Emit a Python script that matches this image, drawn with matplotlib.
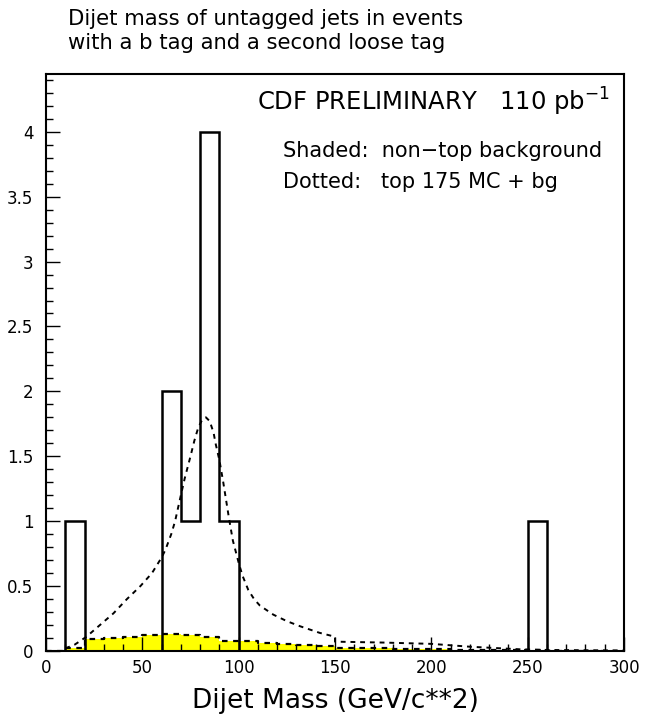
import numpy as np
import matplotlib
matplotlib.use("Agg")
import matplotlib.pyplot as plt
from matplotlib.ticker import MultipleLocator

# Data histogram (bin edges every 10 GeV)
bin_edges = np.arange(0, 310, 10)
data_counts = [0, 1, 0, 0, 0, 0, 2, 1, 4, 1,
               0, 0, 0, 0, 0, 0, 0, 0, 0, 0,
               0, 0, 0, 0, 0, 1, 0, 0, 0, 0]

# Non-top background (shaded)
bg_counts = [0, 0.025, 0.09, 0.10, 0.11, 0.125, 0.13, 0.125, 0.11, 0.08,
             0.075, 0.065, 0.055, 0.045, 0.035, 0.025, 0.022, 0.02, 0.018, 0.015,
             0.012, 0.01, 0.008, 0.006, 0.005, 0.004, 0.003, 0.002, 0.001, 0.001]

# Top 175 MC + bg (dotted)
mc_x = [10, 15, 21, 28, 35, 42, 49, 55, 60, 62, 65, 67, 70, 72, 75, 77, 79, 81, 83,
        85, 87, 88, 90, 92, 95, 97, 100, 102, 105, 108, 111, 118, 125, 132, 142,
        150, 150, 175, 200, 220, 246, 260, 300]
mc_y = [0.02, 0.05, 0.11, 0.2, 0.29, 0.4, 0.5, 0.6, 0.72, 0.78, 0.9, 1.0, 1.2, 1.33,
        1.5, 1.62, 1.72, 1.78, 1.8, 1.77, 1.68, 1.6, 1.47, 1.3, 1.02, 0.85, 0.68,
        0.58, 0.47, 0.4, 0.35, 0.28, 0.23, 0.19, 0.14, 0.11, 0.072, 0.065, 0.055,
        0.033, 0.013, 0.008, 0.004]

fig = plt.figure(figsize=(6.47, 7.15), dpi=100)
ax = fig.add_axes([46/647, 1-651/715, (624-46)/647, (651-74)/715])

# background fill + dashed outline
bg_step = np.append(bg_counts, bg_counts[-1])
ax.fill_between(bin_edges, bg_step, step='post', color='#ffff00', lw=0, zorder=1)
ax.step(bin_edges, bg_step, where='post', color='black', lw=1.6,
        linestyle=(0, (2.5, 2.5)), zorder=2)

# dotted MC curve
ax.plot(mc_x, mc_y, color='black', lw=1.4, linestyle=(0, (2.5, 2.5)), zorder=3)

# data histogram outline
ax.stairs(data_counts, bin_edges, color='black', lw=1.8, zorder=4)

ax.set_xlim(0, 300)
ax.set_ylim(0, 4.445)
ax.xaxis.set_major_locator(MultipleLocator(50))
ax.xaxis.set_minor_locator(MultipleLocator(10))
ax.yaxis.set_major_locator(MultipleLocator(0.5))
ax.yaxis.set_minor_locator(MultipleLocator(0.1))
ax.yaxis.set_major_formatter(matplotlib.ticker.FuncFormatter(lambda v, p: f"{v:g}"))
ax.tick_params(which='both', direction='in', top=False, right=False, labelsize=12)
ax.tick_params(which='major', length=10, width=1.0)
ax.tick_params(axis='y', which='major', pad=9)
ax.tick_params(axis='x', which='major', pad=6)
ax.tick_params(which='minor', length=5, width=1.0)
for s in ax.spines.values():
    s.set_linewidth(1.5)

ax.set_xlabel("Dijet Mass (GeV/c**2)", fontsize=19, labelpad=8)

fig.text(68/647, 1-9/715, "Dijet mass of untagged jets in events\nwith a b tag and a second loose tag",
         ha='left', va='top', fontsize=15.2, linespacing=1.25)

ax.text((257-46)/578, 0.951, r"CDF PRELIMINARY   110 pb$^{-1}$", fontsize=17.5, ha='left', va='center',
        transform=ax.transAxes)
ax.text((283-46)/578, 0.867, "Shaded:  non\u2212top background", fontsize=15, transform=ax.transAxes,
        ha='left', va='center')
ax.text((283-46)/578, 0.812, "Dotted:   top 175 MC + bg", fontsize=15, transform=ax.transAxes,
        ha='left', va='center')

fig.savefig("out.png", dpi=100)
